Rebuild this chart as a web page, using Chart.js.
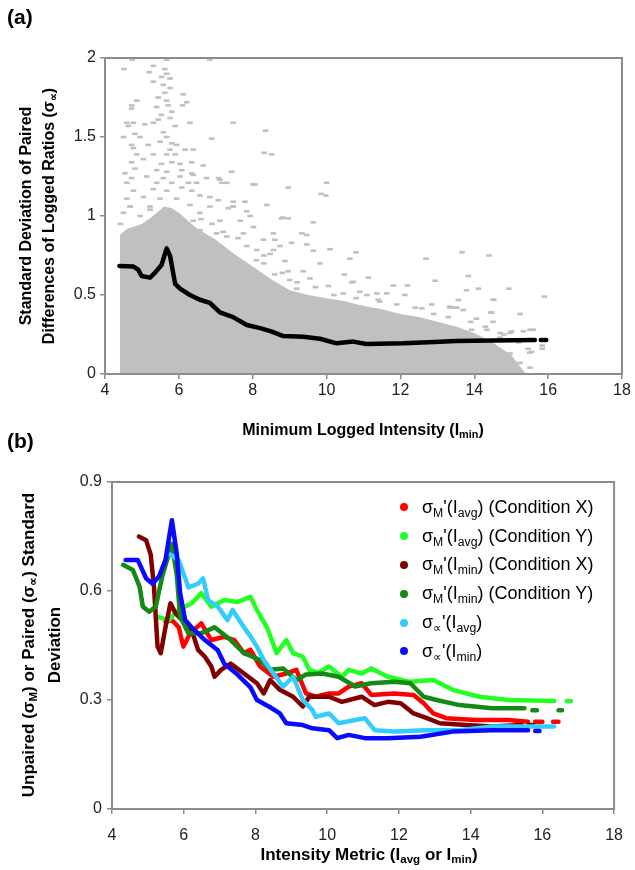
<!DOCTYPE html>
<html>
<head>
<meta charset="utf-8">
<script src="https://cdn.jsdelivr.net/npm/chart.js@4.4.1/dist/chart.umd.min.js"></script>
<style>
  body { margin: 0; background: #fff; font-family: "Liberation Sans", Arial, sans-serif; }
  #wrap { position: relative; width: 635px; height: 870px; overflow: hidden; }
  canvas { position: absolute; left: 0; }
  .txt { position: absolute; color: #000; white-space: nowrap; }
  .bold { font-weight: bold; }
  sub { font-size: 0.68em; vertical-align: -0.3em; line-height: 0; }
  .ytitle { text-align: center; transform: translate(-50%, -50%) rotate(-90deg); }
  .legend { position: absolute; left: 398px; top: 493px; font-size: 18px; }
  .legend .row { display: flex; align-items: center; height: 28.8px; }
  .legend .dot { width: 8px; height: 8px; border-radius: 50%; margin-right: 14px; margin-left: 2px; }
</style>
</head>
<body>
<div id="wrap">
  <canvas id="chartA" width="635" height="440" style="top:0"></canvas>
  <canvas id="chartB" width="635" height="430" style="top:440px"></canvas>

  <div class="txt bold" style="left:7px;top:5px;font-size:21px">(a)</div>
  <div class="txt bold" style="left:7px;top:429px;font-size:21px">(b)</div>

  <div class="txt bold ytitle" style="left:37px;top:216px;font-size:16px;line-height:23px">
    Standard Deviation of Paired<br>Differences of Logged Ratios (σ<sub>∝</sub>)
  </div>
  <div class="txt bold" style="left:363px;top:430px;font-size:16px;transform:translate(-50%,-50%)">
    Minimum Logged Intensity (I<sub>min</sub>)
  </div>

  <div class="txt bold ytitle" style="left:42px;top:645px;font-size:17px;line-height:26px">
    Unpaired (σ<sub>M</sub>) or Paired (σ<sub>∝</sub>) Standard<br>Deviation
  </div>
  <div class="txt bold" style="left:369px;top:855px;font-size:17px;transform:translate(-50%,-50%)">
    Intensity Metric (I<sub>avg</sub> or I<sub>min</sub>)
  </div>

  <div class="legend" id="legendB"></div>
</div>

<script>
// ---- panel (a): paired differences, scatter + moving SD ----
const aLineX = [4.39, 4.77, 4.90, 4.99, 5.22, 5.35, 5.53, 5.67, 5.76, 5.90, 6.03, 6.30, 6.57, 6.84, 7.11, 7.47, 7.84, 8.20, 8.50, 8.83, 9.37, 9.82, 10.27, 10.72, 11.08, 12.08, 13.07, 13.5, 14.5, 15.64, 15.72, 15.8, 15.95];
const aLineY = [0.684, 0.68, 0.66, 0.62, 0.61, 0.64, 0.69, 0.795, 0.75, 0.57, 0.54, 0.50, 0.47, 0.45, 0.39, 0.36, 0.31, 0.29, 0.27, 0.24, 0.236, 0.223, 0.194, 0.205, 0.19, 0.194, 0.204, 0.209, 0.212, 0.215, null, 0.215, 0.215];

// upper edge of the dense part of the cloud
const aCloudX = [4.40, 4.40, 4.6, 5.0, 5.3, 5.6, 5.8, 6.0, 6.5, 7.0, 7.5, 8.0, 8.5, 9.0, 9.5, 10.0, 10.5, 11.0, 11.5, 12.0, 12.5, 13.0, 13.5, 14.0, 14.5, 15.0, 15.4];
const aCloudY = [0, 0.88, 0.92, 0.95, 1.0, 1.06, 1.05, 1.02, 0.92, 0.85, 0.76, 0.68, 0.6, 0.53, 0.5, 0.48, 0.46, 0.43, 0.41, 0.38, 0.36, 0.33, 0.30, 0.26, 0.2, 0.12, 0];

// sparse points above the cloud
const aDotX = [4.74, 5.67, 6.84, 4.51, 5.31, 5.62, 5.2, 5.67, 5.53, 5.76, 5.31, 5.58, 5.76, 5.62, 6.12, 4.86, 5.44, 5.67, 6.21, 4.72,
  5.71, 6.10, 4.72, 5.40, 5.81, 5.53, 5.44, 5.76, 5.31, 4.59, 4.77, 5.08, 6.30, 7.47, 4.63, 5.90, 5.58, 4.81, 4.50, 4.95,
  5.67, 6.89, 8.35, 5.17, 5.81, 4.72, 5.49, 5.94, 6.17, 6.39, 4.77, 5.76, 8.31, 8.51, 4.86, 5.31, 5.67, 5.90, 5.04, 4.72,
  5.53, 5.81, 6.03, 6.35, 6.66, 4.81, 5.40, 6.08, 4.54, 5.67, 7.43, 6.39, 4.72, 5.13, 5.58, 6.03, 6.75, 7.07, 4.59, 5.40,
  5.81, 6.26, 6.48, 7.16, 8.01, 4.77, 5.31, 5.67, 6.08, 6.35, 6.57, 6.84, 7.07, 7.47, 7.79, 8.38, 4.59, 5.04, 5.49, 5.94,
  4.68, 5.22, 6.30, 7.34, 7.84, 7.11, 7.3, 8.06, 6.35, 8.82, 9.33, 7.93, 7.47, 8.3, 8.1, 7.6, 7.2, 6.9, 6.6,
  10.0, 9.85, 9.98, 8.96, 9.64, 9.46, 10.09, 10.80, 10.63, 12.69, 13.67, 14.40, 10.48, 11.13, 12.94, 13.84, 10.68, 11.81, 12.19, 14.11,
  14.94, 15.90, 11.36, 13.79, 10.90, 12.85, 13.48, 14.51, 15.24, 14.47, 15.51, 15.84, 15.84, 15.55, 15.24, 15.51, 14.97, 14.70, 14.24, 14.97,
  14.51, 8.78, 8.96, 8.60, 9.05, 9.46, 8.56, 8.87, 9.64, 9.82, 9.37, 8.96, 12.58, 13.34, 11.44, 10.90, 8.60, 9.0, 9.55, 10.05,
  10.72, 10.45, 11.09, 11.63, 12.12, 8.65, 9.19, 13.57, 14.53, 13.34, 13.52, 13.70, 14.45, 14.06, 14.51, 15.60, 13.93, 15.33, 15.01, 14.34,
  14.7, 15.46, 15.5, 14.88, 14.42, 14.69, 14.15, 15.0,
  6.57, 6.84, 7.11, 7.47, 7.75, 8.02, 8.29, 8.56, 7.3, 7.66, 7.02, 8.11, 8.47, 8.74, 7.84, 6.57, 6.39,
  4.5, 4.68, 4.95, 5.22, 4.42, 5.49,
  10.2, 10.8, 11.4, 11.9, 12.4, 12.9, 13.3, 13.9, 14.3, 14.8, 15.2, 9.7, 9.2, 8.8, 8.3];
const aDotY = [1.99, 1.99, 1.99, 1.93, 1.95, 1.93, 1.91, 1.90, 1.88, 1.87, 1.85, 1.83, 1.81, 1.78, 1.77, 1.73, 1.75, 1.73, 1.72, 1.70,
  1.70, 1.70, 1.68, 1.69, 1.66, 1.64, 1.61, 1.62, 1.59, 1.59, 1.59, 1.58, 1.59, 1.59, 1.57, 1.57, 1.53, 1.52, 1.50, 1.50,
  1.50, 1.49, 1.54, 1.45, 1.46, 1.45, 1.47, 1.45, 1.42, 1.42, 1.43, 1.42, 1.40, 1.39, 1.39, 1.39, 1.39, 1.39, 1.36, 1.34,
  1.33, 1.34, 1.33, 1.34, 1.32, 1.30, 1.29, 1.29, 1.27, 1.28, 1.28, 1.26, 1.24, 1.25, 1.24, 1.25, 1.24, 1.24, 1.21, 1.21,
  1.21, 1.21, 1.21, 1.21, 1.20, 1.16, 1.17, 1.16, 1.18, 1.16, 1.13, 1.12, 1.10, 1.09, 1.09, 1.07, 1.11, 1.12, 1.11, 1.11,
  1.06, 1.06, 1.07, 1.05, 1.03, 1.23, 1.21, 1.20, 1.27, 0.99, 0.89, 1.0, 1.06, 0.75, 0.72, 0.86, 0.9, 0.95, 0.98,
  1.21, 1.14, 1.13, 1.18, 0.96, 0.88, 0.79, 0.77, 0.73, 0.73, 0.77, 0.75, 0.63, 0.61, 0.59, 0.62, 0.58, 0.56, 0.56, 0.54,
  0.54, 0.49, 0.51, 0.53, 0.52, 0.44, 0.42, 0.47, 0.38, 0.39, 0.28, 0.16, 0.18, 0.14, 0.07, 0.04, 0.26, 0.23, 0.17, 0.13,
  0.09, 0.985, 0.985, 0.85, 0.83, 0.82, 0.785, 0.715, 0.78, 0.70, 0.65, 0.65, 0.416, 0.426, 0.458, 0.426, 0.63, 0.595, 0.605, 0.557,
  0.584, 0.51, 0.50, 0.51, 0.50, 0.53, 0.54, 0.468, 0.47, 0.42, 0.42, 0.405, 0.39, 0.35, 0.33, 0.28, 0.28, 0.27, 0.27, 0.28,
  0.26, 0.16, 0.135, 0.10, 0.06, 0.11, 0.12, 0.02,
  1.02, 1.06, 0.97, 1.06, 0.89, 0.93, 0.85, 0.89, 0.87, 0.97, 0.89, 0.785, 0.76, 0.81, 0.81, 0.91, 0.97,
  1.02, 1.06, 1.0, 1.04, 0.95, 0.97,
  0.5, 0.48, 0.47, 0.44, 0.42, 0.38, 0.36, 0.33, 0.3, 0.25, 0.2, 0.55, 0.58, 0.64, 0.7];

// ---- panel (b): unpaired vs paired SD curves ----
const bNames = ["σ<sub>M</sub>'(I<sub>avg</sub>) (Condition X)", "σ<sub>M</sub>'(I<sub>avg</sub>) (Condition Y)",
  "σ<sub>M</sub>'(I<sub>min</sub>) (Condition X)", "σ<sub>M</sub>'(I<sub>min</sub>) (Condition Y)",
  "σ<sub>∝</sub>'(I<sub>avg</sub>)", "σ<sub>∝</sub>'(I<sub>min</sub>)"];
const bColors = ['#ff0000', '#22ff22', '#800000', '#138a13', '#33ccff', '#0a0aff'];

const redX = [5.49, 5.67, 5.86, 5.99, 6.18, 6.49, 6.77, 7.13, 7.41, 7.68, 7.86, 8.13, 8.50, 8.86, 9.14, 9.41, 9.68, 10.05, 10.32, 10.6, 10.96, 11.23, 11.87, 12.41, 12.69, 12.96, 13.32, 14.14, 15.06, 15.6, 15.7, 15.8, 16.0, 16.15, 16.3, 16.45];
const redY = [0.515, 0.52, 0.50, 0.447, 0.484, 0.511, 0.465, 0.474, 0.465, 0.429, 0.438, 0.392, 0.364, 0.373, 0.383, 0.318, 0.309, 0.318, 0.318, 0.337, 0.346, 0.314, 0.318, 0.314, 0.291, 0.263, 0.25, 0.245, 0.245, 0.24, null, 0.24, 0.24, null, 0.24, 0.24];
const greenX = [5.22, 5.58, 5.86, 6.22, 6.49, 6.77, 7.13, 7.50, 7.86, 8.04, 8.32, 8.59, 8.86, 9.05, 9.32, 9.50, 9.75, 10.05, 10.41, 10.6, 10.96, 11.23, 11.69, 12.32, 12.96, 13.5, 14.24, 15.06, 16.33, 16.5, 16.68, 16.8];
const greenY = [0.53, 0.52, 0.548, 0.566, 0.594, 0.557, 0.575, 0.57, 0.584, 0.548, 0.50, 0.429, 0.465, 0.429, 0.419, 0.383, 0.375, 0.392, 0.364, 0.383, 0.373, 0.387, 0.364, 0.35, 0.355, 0.328, 0.309, 0.30, 0.297, null, 0.297, 0.297];
const darkRedX = [4.75, 4.95, 5.08, 5.17, 5.27, 5.36, 5.49, 5.63, 5.77, 5.95, 6.22, 6.40, 6.59, 6.77, 6.86, 7.04, 7.31, 7.68, 8.04, 8.23, 8.41, 8.68, 9.05, 9.32, 9.50, 10.05, 10.41, 10.96, 11.32, 11.69, 12.05, 12.41, 12.78, 13.14, 13.87, 14.6, 15.42, 15.55, 15.62, 15.75];
const darkRedY = [0.75, 0.74, 0.70, 0.612, 0.447, 0.429, 0.50, 0.566, 0.539, 0.52, 0.493, 0.438, 0.419, 0.392, 0.364, 0.383, 0.40, 0.373, 0.346, 0.318, 0.355, 0.328, 0.309, 0.282, 0.309, 0.309, 0.295, 0.309, 0.286, 0.295, 0.291, 0.263, 0.25, 0.236, 0.231, 0.227, 0.231, null, 0.231, 0.231];
const darkGreenX = [4.31, 4.58, 4.77, 4.86, 5.04, 5.22, 5.40, 5.58, 5.67, 5.81, 5.90, 6.13, 6.49, 6.86, 7.31, 7.68, 8.13, 8.41, 8.77, 9.14, 9.41, 9.86, 10.32, 10.78, 11.23, 11.87, 12.32, 12.69, 13.05, 13.69, 14.6, 15.5, 15.62, 15.72, 15.85, 16.2, 16.45, 16.55];
const darkGreenY = [0.672, 0.658, 0.612, 0.557, 0.543, 0.557, 0.64, 0.70, 0.73, 0.64, 0.53, 0.484, 0.484, 0.50, 0.465, 0.429, 0.41, 0.383, 0.387, 0.355, 0.37, 0.373, 0.364, 0.337, 0.346, 0.35, 0.346, 0.309, 0.30, 0.286, 0.277, 0.277, null, 0.272, 0.272, null, 0.272, 0.272];
const cyanX = [5.63, 5.86, 5.95, 6.13, 6.40, 6.54, 6.68, 6.95, 7.22, 7.36, 7.68, 7.86, 8.04, 8.23, 8.50, 8.77, 9.05, 9.32, 9.59, 9.68, 10.05, 10.32, 10.78, 11.05, 11.32, 11.87, 12.78, 13.69, 14.6, 15.5, 16.33];
const cyanY = [0.70, 0.685, 0.66, 0.61, 0.62, 0.635, 0.575, 0.557, 0.52, 0.548, 0.50, 0.475, 0.447, 0.41, 0.373, 0.337, 0.364, 0.30, 0.272, 0.254, 0.263, 0.236, 0.245, 0.25, 0.217, 0.213, 0.217, 0.217, 0.227, 0.227, 0.227];
const blueX = [4.38, 4.72, 4.95, 5.13, 5.31, 5.49, 5.67, 5.81, 5.90, 6.04, 6.22, 6.59, 6.95, 7.13, 7.50, 7.86, 8.04, 8.41, 8.68, 8.86, 9.32, 9.59, 10.05, 10.28, 10.6, 11.05, 11.69, 12.6, 13.5, 14.6, 15.6, 15.72, 15.8, 15.92];
const blueY = [0.685, 0.685, 0.635, 0.62, 0.64, 0.685, 0.795, 0.70, 0.594, 0.52, 0.50, 0.465, 0.437, 0.40, 0.37, 0.335, 0.30, 0.28, 0.263, 0.236, 0.231, 0.222, 0.217, 0.195, 0.204, 0.195, 0.195, 0.199, 0.213, 0.217, 0.217, null, 0.215, 0.215];

function pts(xs, ys) {
  return xs.map((x, i) => ({ x: x, y: ys[i] }));
}

// grey frame round the plot area
const boxPlugin = {
  id: 'box',
  afterDraw(chart) {
    const a = chart.chartArea;
    const c = chart.ctx;
    c.save();
    c.strokeStyle = '#8c8c8c';
    c.lineWidth = 2;
    c.strokeRect(a.left, a.top, a.right - a.left, a.bottom - a.top);
    c.restore();
  }
};

function axis(opts) {
  return {
    type: 'linear',
    min: opts.min,
    max: opts.max,
    border: { display: false },
    grid: { drawOnChartArea: false, drawTicks: true, tickLength: 5, color: '#8c8c8c', lineWidth: 1.5 },
    ticks: {
      stepSize: opts.step,
      padding: opts.pad,
      color: '#222',
      font: { family: '"Liberation Sans", Arial, sans-serif', size: 16 },
      callback: v => String(Math.round(v * 10) / 10)
    },
    afterFit: opts.fit
  };
}

Chart.defaults.animation = false;

new Chart(document.getElementById('chartA'), {
  type: 'scatter',
  data: {
    datasets: [
      {
        type: 'line',
        data: pts(aLineX, aLineY),
        borderColor: '#000',
        borderWidth: 4.5,
        borderJoinStyle: 'round',
        borderCapStyle: 'round',
        pointRadius: 0,
        spanGaps: false,
        order: 0
      },
      {
        data: pts(aDotX, aDotY),
        pointStyle: 'line',
        pointRadius: 2.8,
        pointBorderWidth: 2.6,
        pointBorderColor: '#c0c0c0',
        pointBackgroundColor: '#c0c0c0',
        order: 1
      },
      {
        type: 'line',
        data: pts(aCloudX, aCloudY),
        borderWidth: 0,
        pointRadius: 0,
        backgroundColor: '#c0c0c0',
        fill: 'origin',
        order: 2
      }
    ]
  },
  options: {
    responsive: false,
    layout: { padding: { top: 58, right: 13, left: 0, bottom: 0 } },
    plugins: { legend: { display: false }, tooltip: { enabled: false } },
    scales: {
      x: axis({ min: 4, max: 18, step: 2, pad: 2, fit: s => { s.height = 66; } }),
      y: axis({ min: 0, max: 2, step: 0.5, pad: 4, fit: s => { s.width = 105; } })
    }
  },
  plugins: [boxPlugin]
});

const bSeries = [[redX, redY], [greenX, greenY], [darkRedX, darkRedY], [darkGreenX, darkGreenY], [cyanX, cyanY], [blueX, blueY]];

new Chart(document.getElementById('chartB'), {
  type: 'scatter',
  data: {
    datasets: bSeries.map((s, i) => ({
      data: pts(s[0], s[1]),
      showLine: true,
      spanGaps: false,
      borderColor: bColors[i],
      backgroundColor: bColors[i],
      borderWidth: 4.5,
      borderJoinStyle: 'round',
      borderCapStyle: 'round',
      pointRadius: 0,
      order: bSeries.length - i
    }))
  },
  options: {
    responsive: false,
    layout: { padding: { top: 42, right: 10, left: 0, bottom: 0 } },
    plugins: { legend: { display: false }, tooltip: { enabled: false } },
    scales: {
      x: axis({ min: 4, max: 18, step: 2, pad: 12, fit: s => { s.height = 61; } }),
      y: axis({ min: 0, max: 0.9, step: 0.3, pad: 5, fit: s => { s.width = 112; } })
    }
  },
  plugins: [boxPlugin]
});

// legend for panel (b), built from the series names and colours
const legend = document.getElementById('legendB');
bNames.forEach((name, i) => {
  const row = document.createElement('div');
  row.className = 'row';
  row.innerHTML = '<span class="dot" style="background:' + bColors[i] + '"></span><span>' + name + '</span>';
  legend.appendChild(row);
});
</script>
</body>
</html>
